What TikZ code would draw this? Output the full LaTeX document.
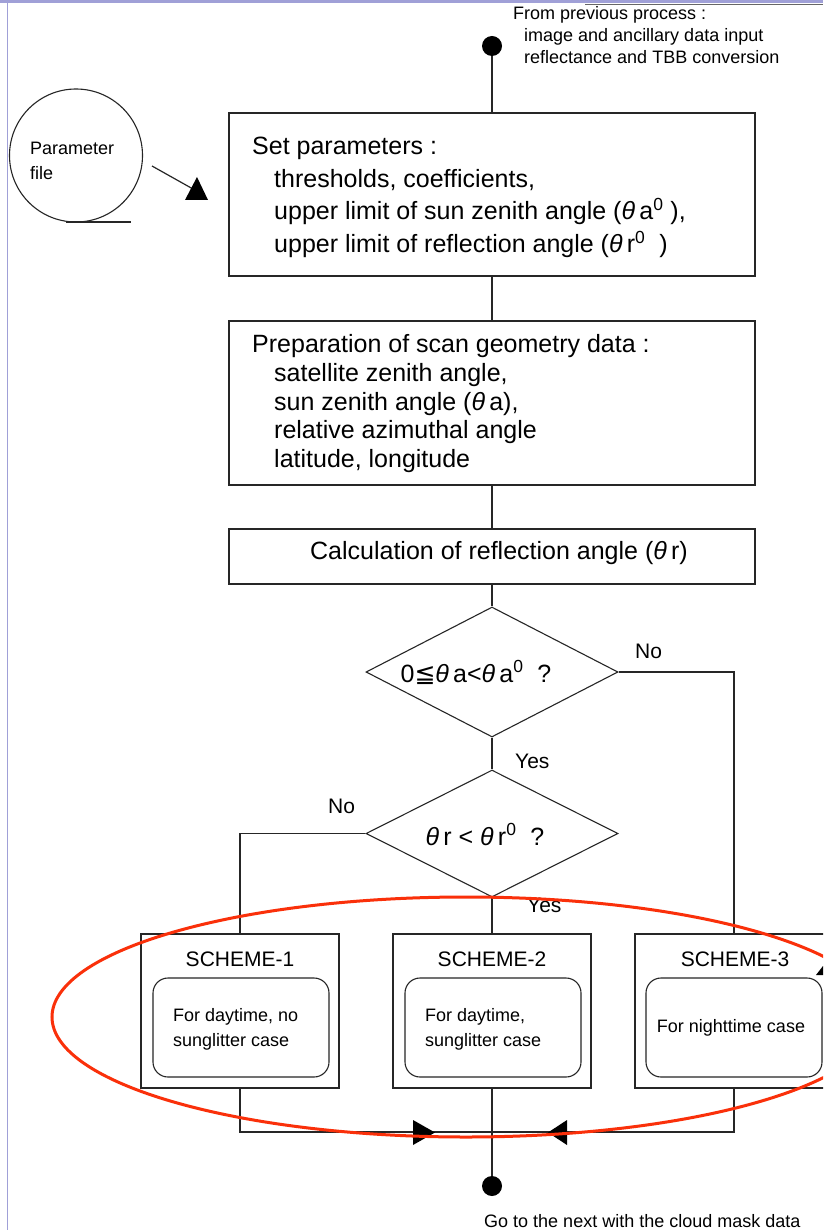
\documentclass[tikz,border=0pt]{standalone}
\usepackage{fontspec}
\setmainfont{Liberation Sans}
\newfontfamily\dejavu{DejaVu Sans}
\usetikzlibrary{shapes.geometric}
\definecolor{ered}{RGB}{250,48,10}
\definecolor{lav}{RGB}{160,160,215}
\newcommand{\thet}{{\itshape θ}}
\newcommand{\supz}{\textsuperscript{0}}
\newcommand{\fbig}{\fontsize{25}{33}\selectfont}
\newcommand{\fmid}{\fontsize{21}{25}\selectfont}
\newcommand{\fsmall}{\fontsize{18}{22}\selectfont}
\begin{document}
\begin{tikzpicture}[x=1pt,y=-1pt,
  conn/.style={line width=1.2pt, draw=black!85},
  boxnode/.style={draw=black!85, line width=1.2pt, rectangle, inner sep=0pt, minimum width=526pt},
  decision/.style={draw=black!85, line width=1.1pt, diamond, inner sep=0pt, minimum width=252pt, minimum height=130pt},
  scheme/.style={draw=black!85, line width=1.2pt, rectangle, inner sep=0pt, minimum width=198pt, minimum height=154pt},
  inner/.style={draw=black!85, line width=1.1pt, rectangle, rounded corners=15pt, inner sep=0pt, minimum width=176pt, minimum height=99pt},
  dot/.style={circle, fill=black, inner sep=0pt, minimum size=20pt},
  txt/.style={anchor=base west, inner sep=0pt},
  ctxt/.style={anchor=base, inner sep=0pt}]
\useasboundingbox (0,0) rectangle (823,1230);
\clip (0,0) rectangle (823,1230);
\fill[white] (0,0) rectangle (823,1230);
% window frame remnants
\fill[lav] (0,0) rectangle (823,3.5);
\draw[black!60, line width=1.2pt] (585,4.2) -- (823,4.2);
\draw[lav, line width=1.5pt] (7.5,0) -- (7.5,1230);

% start dot and text
\node[dot] (start) at (492,46) {};
\node[txt] (t1) at (513,20) {\fsmall From previous process :};
\node[txt] (t2) at (524,42) {\fsmall image and ancillary data input};
\node[txt] (t3) at (524,64) {\fsmall reflectance and TBB conversion};

% parameter file
\node[circle, draw=black!85, line width=1.1pt, minimum size=133pt, inner sep=0pt] (pf) at (76,155.5) {};
\coordinate (pfa) at (66,222);
\coordinate (pfb) at (131,222);
\draw[conn] (pfa) -- (pfb);
\node[txt] (pft1) at (30,155) {\fsmall Parameter};
\node[txt] (pft2) at (30,180) {\fsmall file};
\coordinate (pa) at (152,166);
\coordinate (pb) at (193,189);
\draw[conn] (pa) -- (pb);
\fill[black] (185,200) -- (208,200) -- (197,177) -- cycle;

% boxes
\node[boxnode, minimum height=163pt] (b1) at (492,194.5) {};
\node[txt] (b1t1) at (252,155) {\fbig Set parameters :};
\node[txt] (b1t2) at (274,188) {\fbig thresholds, coefficients,};
\node[txt] (b1t3) at (274,220) {\fbig upper limit of sun zenith angle (\thet\,a\supz\ ),};
\node[txt] (b1t4) at (274,253) {\fbig upper limit of reflection angle (\thet\,r\supz\ \ )};

\node[boxnode, minimum height=164pt] (b2) at (492,403) {};
\node[txt] (b2t1) at (252,352) {\fbig Preparation of scan geometry data :};
\node[txt] (b2t2) at (274,381) {\fbig satellite zenith angle,};
\node[txt] (b2t3) at (274,410) {\fbig sun zenith angle (\thet\,a),};
\node[txt] (b2t4) at (274,438) {\fbig relative azimuthal angle};
\node[txt] (b2t5) at (274,467) {\fbig latitude, longitude};

\node[boxnode, minimum height=55pt] (b3) at (492,556.5) {};
\node[ctxt] (b3t) at (499,559) {\fbig Calculation of reflection angle (\thet\,r)};

% decisions
\node[decision, minimum height=130pt] (d1) at (492,672) {};
\node[ctxt] (d1t) at (476,682) {\fbig 0{\dejavu ≦}\thet\,a<\thet\,a\supz\ \ ?};
\node[decision, minimum height=127pt] (d2) at (492,833.5) {};
\node[ctxt] (d2t) at (485,845) {\fbig \thet\,r < \thet\,r\supz\ \ ?};

\node[txt] (no1) at (635,658) {\fontsize{21}{25}\selectfont No};
\node[txt] (yes1) at (515,768) {\fontsize{21}{25}\selectfont Yes};
\node[txt] (no2) at (328,813) {\fontsize{21}{25}\selectfont No};
\node[txt] (yes2) at (527,912) {\fontsize{21}{25}\selectfont Yes};

% schemes
\node[scheme] (s1) at (240,1011) {};
\node[scheme] (s2) at (492,1011) {};
\node[scheme] (s3) at (734,1011) {};
\node[inner] (i1) at (241,1027.5) {};
\node[inner] (i2) at (493,1027.5) {};
\node[inner] (i3) at (734,1027.5) {};
\node[ctxt] (s1t) at (240,966) {\fmid SCHEME-1};
\node[ctxt] (s2t) at (492,966) {\fmid SCHEME-2};
\node[ctxt] (s3t) at (735,966) {\fmid SCHEME-3};
\node[txt] (i1a) at (173,1021) {\fsmall For daytime, no};
\node[txt] (i1b) at (173,1046) {\fsmall sunglitter case};
\node[txt] (i2a) at (425,1021) {\fsmall For daytime,};
\node[txt] (i2b) at (425,1046) {\fsmall sunglitter case};
\node[ctxt] (i3a) at (731,1032) {\fsmall For nighttime case};

% end
\coordinate (j) at (492,1132);
\node[dot] (end) at (492,1186) {};
\node[txt] (endt) at (484,1227) {\fsmall Go to the next with the cloud mask data};

% connectors
\draw[conn] (start) -- (b1.north);
\draw[conn] (b1) -- (b2);
\draw[conn] (b2) -- (b3);
\draw[conn] (b3) -- (d1.north);
\draw[conn] (d1.south) -- (d2.north);
\draw[conn] (d1.east) -| (s3.north);
\draw[conn] (d2.west) -| (s1.north);
\draw[conn] (d2.south) -- (s2.north);
\draw[conn] (s1.south) |- (j);
\draw[conn] (s3.south) |- (j);
\draw[conn] (s2.south) -- (end);
\fill[black] (413,1120) -- (413,1145) -- (435,1132.5) -- cycle;
\fill[black] (567,1120) -- (567,1145) -- (548,1132.5) -- cycle;
\fill[black] (816,975) -- (823,966) -- (823,975) -- cycle;

% red highlight ellipse
\draw[ered, line width=3pt] (466,1017) ellipse [x radius=414, y radius=120];
\end{tikzpicture}
\end{document}
